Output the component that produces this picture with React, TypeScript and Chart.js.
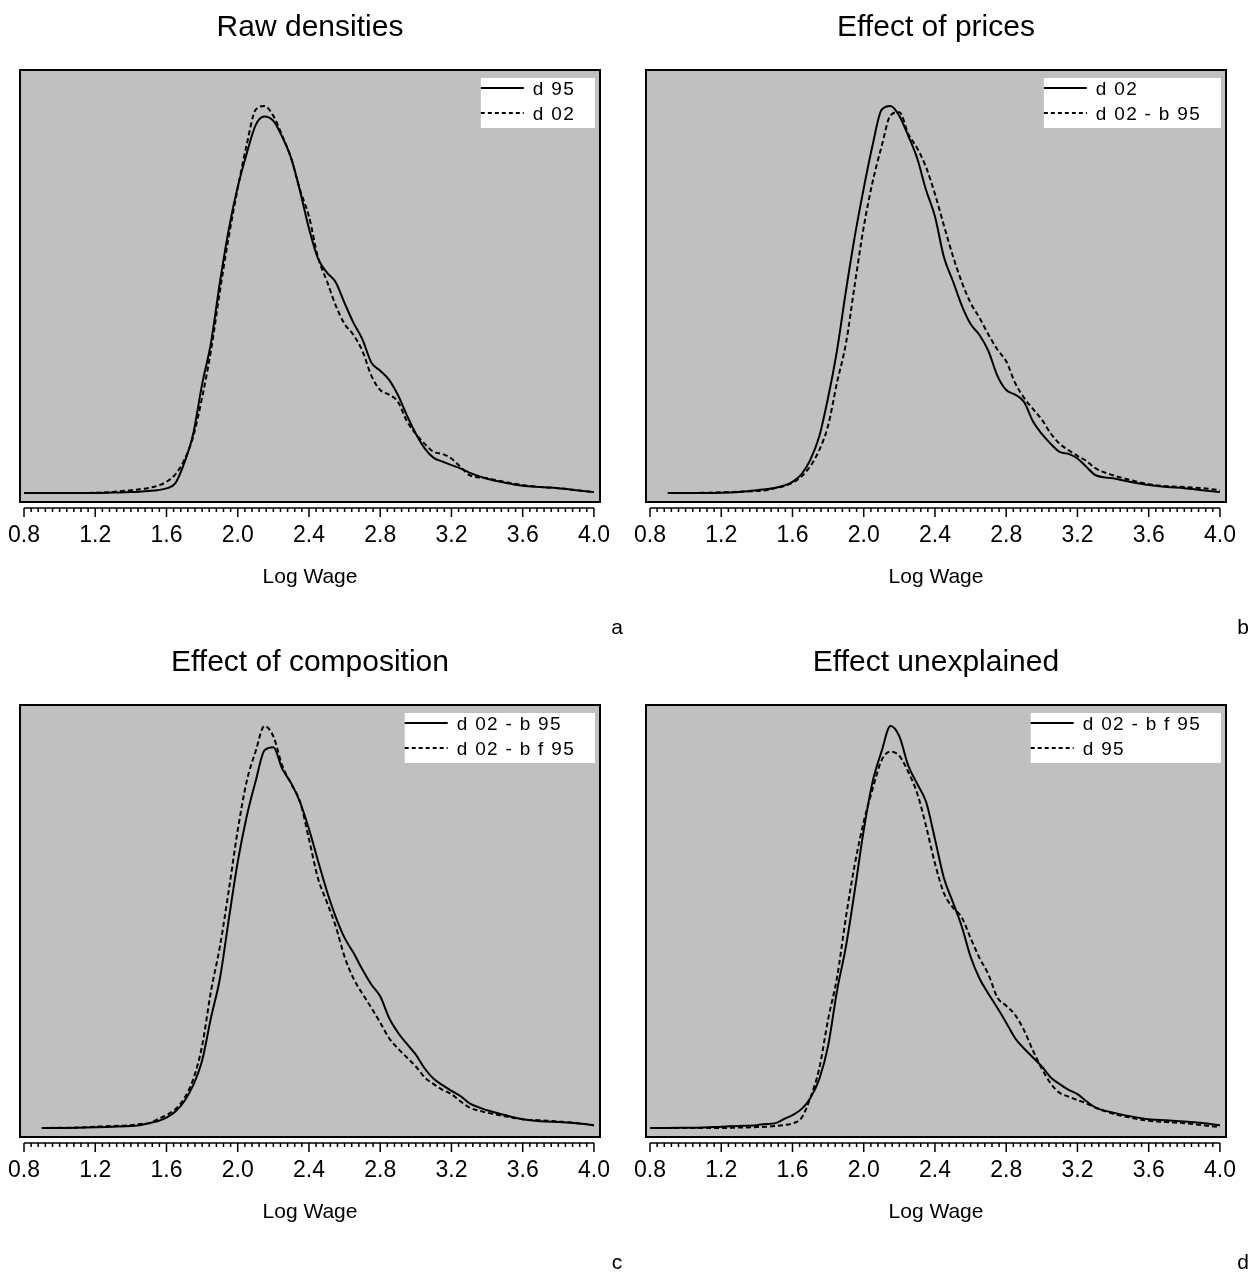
import { useEffect, useRef } from 'react';
import { Chart, registerables } from 'chart.js';

Chart.register(...registerables);

// Kernel density estimates of log wages on a common evaluation grid
const logWage = [
  0.8, 0.9, 1.0, 1.1, 1.2, 1.3, 1.4,
  1.45, 1.5, 1.55, 1.6, 1.65, 1.7, 1.75, 1.8, 1.85, 1.9, 1.95, 2.0, 2.05, 2.1, 2.15, 2.2, 2.25, 2.3, 2.35,
  2.4, 2.45, 2.5, 2.55, 2.6, 2.65, 2.7, 2.75, 2.8, 2.85, 2.9, 2.95, 3.0, 3.05, 3.1, 3.15, 3.2, 3.25, 3.3,
  3.4, 3.5, 3.6, 3.7, 3.8, 3.9, 4.0,
];

const d95 = [
  0.005, 0.005, 0.005, 0.005, 0.005, 0.007, 0.009,
  0.011, 0.014, 0.018, 0.026, 0.050, 0.142, 0.275, 0.500, 0.690, 0.965, 1.207, 1.400, 1.550, 1.680, 1.720, 1.700, 1.627, 1.530, 1.380,
  1.210, 1.075, 1.010, 0.965, 0.870, 0.780, 0.705, 0.600, 0.562, 0.520, 0.450, 0.358, 0.275, 0.208, 0.165, 0.148, 0.132, 0.117, 0.098,
  0.070, 0.052, 0.038, 0.032, 0.027, 0.018, 0.009,
];

const d02 = [
  0.005, 0.005, 0.005, 0.005, 0.006, 0.010, 0.018,
  0.022, 0.028, 0.038, 0.056, 0.090, 0.156, 0.262, 0.440, 0.655, 0.925, 1.175, 1.393, 1.590, 1.750, 1.768, 1.723, 1.632, 1.530, 1.385,
  1.265, 1.080, 0.972, 0.860, 0.775, 0.725, 0.652, 0.540, 0.474, 0.453, 0.420, 0.332, 0.274, 0.229, 0.192, 0.183, 0.162, 0.124, 0.087,
  0.072, 0.055, 0.041, 0.032, 0.027, 0.018, 0.009,
];

const d02b95 = [
  null, 0.005, 0.005, 0.006, 0.008, 0.011, 0.014,
  0.017, 0.027, 0.036, 0.052, 0.080, 0.127, 0.200, 0.312, 0.508, 0.686, 0.956, 1.217, 1.423, 1.583, 1.725, 1.740, 1.641, 1.576, 1.489,
  1.367, 1.224, 1.086, 0.967, 0.871, 0.803, 0.727, 0.659, 0.605, 0.506, 0.439, 0.388, 0.339, 0.276, 0.229, 0.200, 0.174, 0.151, 0.118,
  0.086, 0.064, 0.045, 0.036, 0.032, 0.027, 0.018,
];

const d02bf95 = [
  0.005, 0.005, 0.006, 0.007, 0.011, 0.014, 0.018,
  0.023, 0.026, 0.045, 0.064, 0.091, 0.141, 0.227, 0.379, 0.630, 0.832, 1.089, 1.362, 1.583, 1.720, 1.836, 1.789, 1.656, 1.573, 1.491,
  1.321, 1.144, 1.035, 0.924, 0.785, 0.686, 0.617, 0.553, 0.485, 0.414, 0.367, 0.326, 0.285, 0.235, 0.205, 0.179, 0.159, 0.127, 0.099,
  0.075, 0.058, 0.045, 0.040, 0.035, 0.028, 0.018,
];

const xTickValues = [0.8, 1.2, 1.6, 2.0, 2.4, 2.8, 3.2, 3.6, 4.0];
const axisTitle = 'Log Wage';

const titles = ['Raw densities', 'Effect of prices', 'Effect of composition', 'Effect unexplained'];
const tags = ['a', 'b', 'c', 'd'];
const seriesNames = [
  ['d 95', 'd 02'],
  ['d 02', 'd 02 - b 95'],
  ['d 02 - b 95', 'd 02 - b f 95'],
  ['d 02 - b f 95', 'd 95'],
];
const seriesValues = [
  [d95, d02],
  [d02, d02b95],
  [d02b95, d02bf95],
  [d02bf95, d95],
];
const gridStart = [0.8, 0.9, 0.9, 0.8];

const FONT = '"Liberation Sans", Arial, Helvetica, sans-serif';
const CANVAS_W = 626;
const CANVAS_H = 635;

function toPoints(values: (number | null)[], from: number) {
  const pts: { x: number; y: number }[] = [];
  logWage.forEach((x, i) => {
    const y = values[i];
    if (x >= from - 1e-9 && y !== null && y !== undefined) pts.push({ x, y });
  });
  return pts;
}

// Grey plotting frame, boxed legend, tick comb under the frame and the panel letter
const framePlugin = {
  id: 'frame',
  beforeDatasetsDraw(chart: any) {
    const { ctx, chartArea: a } = chart;
    ctx.save();
    ctx.fillStyle = '#c0c0c0';
    ctx.fillRect(a.left, a.top, a.right - a.left, a.bottom - a.top);
    ctx.restore();
  },
  afterDatasetsDraw(chart: any) {
    const { ctx, chartArea: a } = chart;
    ctx.save();
    ctx.strokeStyle = '#000';
    ctx.lineWidth = 2;
    ctx.strokeRect(a.left, a.top, a.right - a.left, a.bottom - a.top);

    // legend
    ctx.font = `19px ${FONT}`;
    (ctx as any).letterSpacing = '1.3px';
    const lineLen = 43;
    const gap = 9;
    const textW = Math.max(...chart.data.datasets.map((d: any) => ctx.measureText(d.label).width));
    const boxW = lineLen + gap + textW + 20;
    const x0 = a.right - 5 - boxW;
    const y0 = a.top + 8;
    ctx.fillStyle = '#fff';
    ctx.fillRect(x0, y0, boxW, 50);
    ctx.fillStyle = '#000';
    ctx.textBaseline = 'middle';
    ctx.textAlign = 'left';
    chart.data.datasets.forEach((d: any, i: number) => {
      const y = y0 + 10 + i * 25;
      ctx.lineWidth = 2;
      ctx.setLineDash(d.borderDash && d.borderDash.length ? [4, 3] : []);
      ctx.beginPath();
      ctx.moveTo(x0, y);
      ctx.lineTo(x0 + lineLen, y);
      ctx.stroke();
      ctx.setLineDash([]);
      ctx.fillText(d.label, x0 + lineLen + gap, y + 2);
    });
    ctx.restore();
  },
  afterDraw(chart: any, _args: any, opts: any) {
    const { ctx, chartArea: a } = chart;
    const xs = chart.scales.x;
    ctx.save();
    ctx.strokeStyle = '#000';
    const yLine = a.bottom + 6;
    const x0 = xs.getPixelForValue(xTickValues[0]);
    const x1 = xs.getPixelForValue(xTickValues[xTickValues.length - 1]);
    ctx.lineWidth = 1.5;
    ctx.beginPath();
    ctx.moveTo(x0, yLine);
    ctx.lineTo(x1, yLine);
    const minorPerMajor = 10;
    const steps = (xTickValues.length - 1) * minorPerMajor;
    for (let k = 0; k <= steps; k++) {
      const px = x0 + ((x1 - x0) * k) / steps;
      const len = k % minorPerMajor === 0 ? 9 : 4;
      ctx.moveTo(px, yLine);
      ctx.lineTo(px, yLine + len);
    }
    ctx.stroke();

    ctx.fillStyle = '#000';
    ctx.font = `21px ${FONT}`;
    ctx.textAlign = 'center';
    ctx.textBaseline = 'middle';
    ctx.fillText(opts.tag, 617, 628);
    ctx.restore();
  },
};

function Panel({ index, left, top }: { index: number; left: number; top: number }) {
  const ref = useRef<HTMLCanvasElement | null>(null);

  useEffect(() => {
    if (!ref.current) return;
    const [solid, dashed] = seriesValues[index];
    const [solidName, dashedName] = seriesNames[index];
    const chart = new Chart(ref.current, {
      type: 'line',
      data: {
        datasets: [
          {
            label: solidName,
            data: toPoints(solid, gridStart[index]),
            borderColor: '#000',
            borderWidth: 2,
            pointRadius: 0,
            cubicInterpolationMode: 'monotone',
            borderDash: [],
          },
          {
            label: dashedName,
            data: toPoints(dashed, gridStart[index]),
            borderColor: '#000',
            borderWidth: 2,
            pointRadius: 0,
            cubicInterpolationMode: 'monotone',
            borderDash: [5, 3],
          },
        ],
      },
      options: {
        animation: false,
        responsive: false,
        events: [],
        layout: { padding: { left: 20, right: 26, top: 0, bottom: 45 } },
        plugins: {
          legend: { display: false },
          tooltip: { enabled: false },
          title: {
            display: true,
            text: titles[index],
            color: '#000',
            font: { family: FONT, size: 30, weight: 'normal', lineHeight: 1.2 },
            padding: { top: 10, bottom: 24 },
          },
          frame: { tag: tags[index] },
        } as any,
        scales: {
          x: {
            type: 'linear',
            min: 0.7775,
            max: 4.034,
            afterBuildTicks: (scale: any) => {
              scale.ticks = xTickValues.map((value) => ({ value }));
            },
            afterFit: (scale: any) => {
              scale.height = 88;
              scale.paddingLeft = 0;
              scale.paddingRight = 0;
            },
            grid: { display: false, drawTicks: false },
            border: { display: false },
            ticks: {
              padding: 20,
              color: '#000',
              autoSkip: false,
              maxRotation: 0,
              font: { family: FONT, size: 23 },
              callback: (v: any) => Number(v).toFixed(1),
            },
            title: {
              display: true,
              text: axisTitle,
              color: '#000',
              font: { family: FONT, size: 21 },
              padding: 0,
            },
          },
          y: { display: false, min: -0.036, max: 1.932 },
        },
      },
      plugins: [framePlugin],
    } as any);
    return () => chart.destroy();
  }, [index]);

  return (
    <canvas
      ref={ref}
      width={CANVAS_W}
      height={CANVAS_H}
      style={{ position: 'absolute', left, top, width: CANVAS_W, height: CANVAS_H }}
    />
  );
}

export default function App() {
  return (
    <div style={{ position: 'absolute', left: 0, top: 0, width: 1253, height: 1275, background: '#fff' }}>
      <Panel index={0} left={0} top={0} />
      <Panel index={1} left={626} top={0} />
      <Panel index={2} left={0} top={635} />
      <Panel index={3} left={626} top={635} />
    </div>
  );
}
